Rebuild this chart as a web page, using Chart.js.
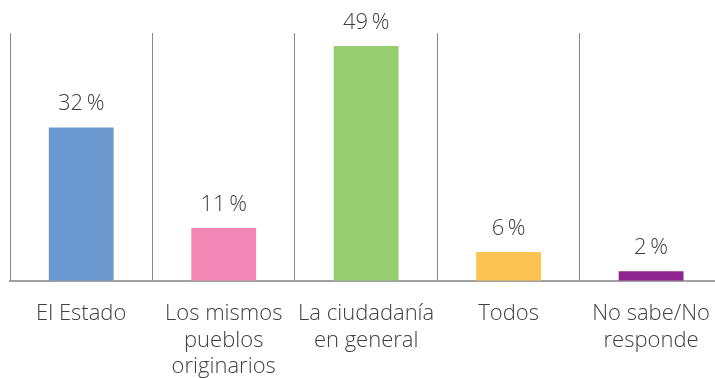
<!DOCTYPE html>
<html>
<head>
<meta charset="utf-8">
<script src="https://cdn.jsdelivr.net/npm/chart.js@4/dist/chart.umd.min.js"></script>
<style>
  html, body { margin: 0; padding: 0; background: #fff; overflow: hidden; }
  #wrap { width: 730px; height: 400px; }
</style>
</head>
<body>
<div id="wrap"><canvas id="chart"></canvas></div>
<script>
const categories = [
  'El Estado',
  ['Los mismos', 'pueblos', 'originarios'],
  ['La ciudadanía', 'en general'],
  'Todos',
  ['No sabe/No', 'responde'],
];
const values = [32, 11, 49, 6, 2];
const barColors = ['#6a98cf', '#f288b5', '#96cd6e', '#fcc353', '#8f2590'];

const FONT = '"Open Sans", "Noto Sans", sans-serif';

/* porcentaje sobre cada barra */
const valueLabels = {
  id: 'valueLabels',
  afterDatasetsDraw(chart) {
    const { ctx } = chart;
    const meta = chart.getDatasetMeta(0);
    ctx.save();
    ctx.font = `300 22px ${FONT}`;
    ctx.fillStyle = '#404040';
    ctx.textAlign = 'center';
    ctx.textBaseline = 'alphabetic';
    meta.data.forEach((bar, i) => {
      ctx.fillText(values[i] + '\u2009%', bar.x, bar.y - 17);
    });
    ctx.restore();
  },
};

new Chart(document.getElementById('chart').getContext('2d'), {
  type: 'bar',
  data: {
    labels: categories,
    datasets: [{
      data: values,
      backgroundColor: barColors,
      borderWidth: 0,
      categoryPercentage: 0.455,
      barPercentage: 1,
    }],
  },
  options: {
    responsive: true, maintainAspectRatio: false,
    animation: false,
    layout: { padding: { left: 10, top: 33, right: 0, bottom: 0 } },
    plugins: { legend: { display: false }, tooltip: { enabled: false } },
    scales: {
      x: {
        grid: { offset: true, color: '#8a8a8a', lineWidth: 1, drawTicks: false },
        border: { color: '#a0a0a0', width: 2 },
        ticks: {
          color: '#404040', padding: 20, maxRotation: 0, autoSkip: false,
          font: { family: FONT, size: 22, weight: 300, lineHeight: 1.2 },
        },
      },
      y: {
        display: false, min: 0, max: 51.7,
      },
    },
  },
  plugins: [valueLabels],
});
</script>
</body>
</html>
